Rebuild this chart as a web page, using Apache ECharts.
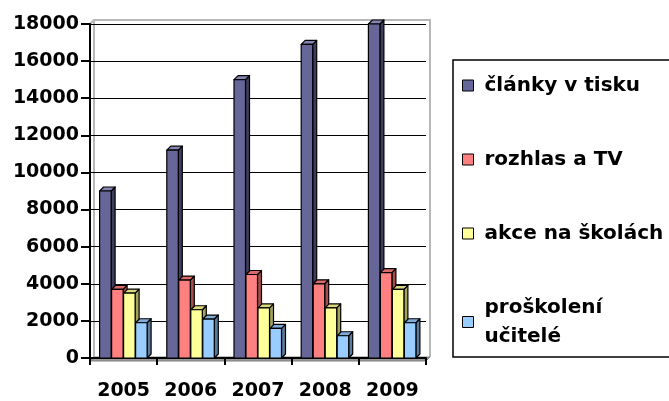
<!DOCTYPE html>
<html>
<head>
<meta charset="utf-8">
<script src="https://cdn.jsdelivr.net/npm/echarts@6/dist/echarts.min.js"></script>
<style>
  html, body { margin: 0; padding: 0; background: #fff; }
  #chart { width: 669px; height: 401px; }
</style>
</head>
<body>
<div id="chart"></div>
<script>
// data
const years = ['2005', '2006', '2007', '2008', '2009']
const seriesNames = ['články v tisku', 'rozhlas a TV', 'akce na školách', 'proškolení\nučitelé']
const clanky = [9000, 11200, 15000, 16900, 18000]
const rozhlas = [3700, 4200, 4500, 4000, 4600]
const akce = [3500, 2600, 2700, 2700, 3700]
const proskoleni = [1900, 2100, 1600, 1200, 1900]
const yTicks = { min: 0, max: 18000, interval: 2000 }

// front / side / top colours per series
const palette = [
  { front: '#666699', side: '#3d3d5c', top: '#8585b3' },
  { front: '#ff8080', side: '#a34d4d', top: '#d96a6a' },
  { front: '#ffff99', side: '#a3a35c', top: '#d9d97f' },
  { front: '#99ccff', side: '#5c7a99', top: '#80acd9' }
]
const DX = 4, DY = -4, BAR_W = 11.5

function makeRender(si) {
  return function (params, api) {
    const idx = api.value(0)
    const val = api.value(1)
    const top = api.coord([idx, val])
    const base = api.coord([idx, 0])
    const x0 = top[0] - 24 + si * 12
    const x1 = x0 + BAR_W
    const c = palette[si]
    const stroke = { stroke: '#000', lineWidth: 1.2, lineJoin: 'round' }
    return {
      type: 'group',
      children: [
        { type: 'polygon', shape: { points: [[x1, top[1]], [x1 + DX, top[1] + DY], [x1 + DX, base[1] + DY], [x1, base[1]]] },
          style: Object.assign({ fill: c.side }, stroke) },
        { type: 'polygon', shape: { points: [[x0, top[1]], [x0 + DX, top[1] + DY], [x1 + DX, top[1] + DY], [x1, top[1]]] },
          style: Object.assign({ fill: c.top }, stroke) },
        { type: 'rect', shape: { x: x0, y: top[1], width: BAR_W, height: base[1] - top[1] },
          style: Object.assign({ fill: c.front }, stroke) }
      ]
    }
  }
}

const seriesData = [clanky, rozhlas, akce, proskoleni]

const chart = echarts.init(document.getElementById('chart'))
chart.setOption({
  animation: false,
  textStyle: { fontFamily: 'DejaVu Sans' },
  graphic: [
    // back wall outline and floor of the 3D plot
    { type: 'polyline', z: 0, shape: { points: [[90, 24], [94, 20], [430, 20], [430, 357]] },
      style: { stroke: '#b8b8b8', lineWidth: 2, fill: null } },
    { type: 'polygon', z: 0, shape: { points: [[90, 361], [94, 357], [430, 357], [426, 361]] },
      style: { fill: '#9a9a9a', stroke: '#808080', lineWidth: 1 } },
    { type: 'line', z: 0, shape: { x1: 94, y1: 20, x2: 94, y2: 357 },
      style: { stroke: '#b8b8b8', lineWidth: 2 } }
  ],
  legend: {
    orient: 'vertical',
    left: 453,
    top: 60,
    padding: [11, 70, 6, 9],
    itemGap: 45,
    itemWidth: 11,
    itemHeight: 11,
    borderColor: '#000',
    borderWidth: 1.5,
    icon: 'rect',
    textStyle: { fontFamily: 'DejaVu Sans', fontWeight: 'bold', fontSize: 20, color: '#000', lineHeight: 29, padding: [0, 0, 0, 6] },
    data: seriesNames.map((n, i) => ({ name: n, itemStyle: { color: palette[i].front, borderColor: '#000', borderWidth: 1 } }))
  },
  grid: { left: 90, right: 243, top: 24, bottom: 40, containLabel: false },
  xAxis: {
    type: 'category',
    data: years,
    axisLine: { lineStyle: { color: '#000', width: 2 } },
    axisTick: { show: true, length: 7, lineStyle: { color: '#000', width: 2 } },
    axisLabel: { color: '#000', fontWeight: 'bold', fontSize: 19, margin: 24, interval: 0 },
    splitLine: { show: false }
  },
  yAxis: {
    type: 'value',
    min: yTicks.min,
    max: yTicks.max,
    interval: yTicks.interval,
    axisLine: { show: true, lineStyle: { color: '#000', width: 2 } },
    axisTick: { show: true, length: 9, lineStyle: { color: '#000', width: 2 } },
    axisLabel: { color: '#000', fontWeight: 'bold', fontSize: 19, margin: 11, formatter: v => String(v) },
    splitLine: { show: true, lineStyle: { color: '#000', width: 1.2 } }
  },
  series: seriesData.map((arr, si) => ({
    name: seriesNames[si],
    type: 'custom',
    color: palette[si].front,
    renderItem: makeRender(si),
    encode: { x: 0, y: 1 },
    data: arr.map((v, i) => [i, v]),
    z: 3
  }))
})
</script>
</body>
</html>
